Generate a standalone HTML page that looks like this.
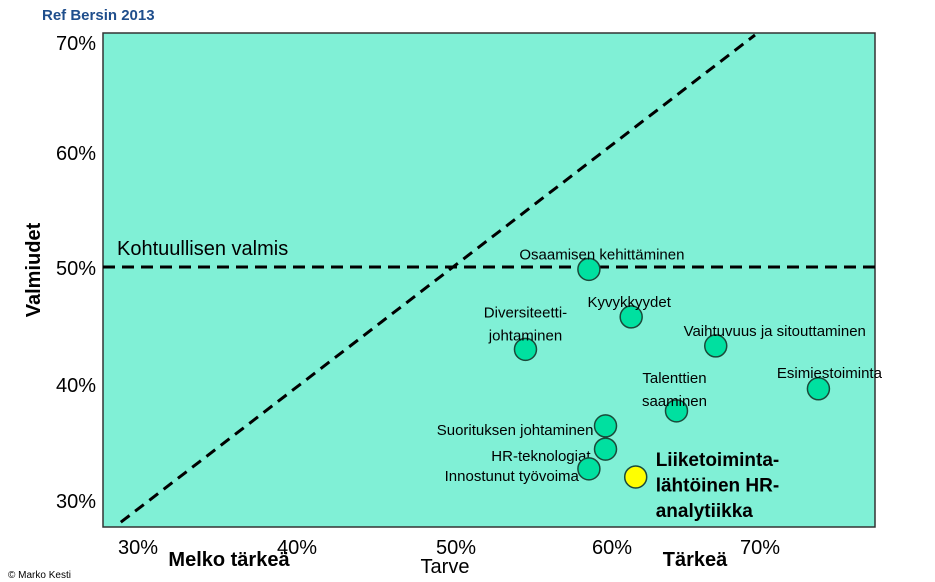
<!DOCTYPE html>
<html><head><meta charset="utf-8"><style>
body{margin:0;background:#fff;width:935px;height:582px;overflow:hidden;font-family:"Liberation Sans","DejaVu Sans",sans-serif}
svg{display:block}
</style></head><body>
<svg width="935" height="582" xmlns="http://www.w3.org/2000/svg">
<text x="42" y="20" font-size="15" font-weight="bold" fill="#1f4e8c">Ref Bersin 2013</text>
<rect x="103" y="33" width="772" height="494" fill="#80f0d6" stroke="#333" stroke-width="1.5"/>
<g id="labels" font-size="20" fill="#000">
<text x="96" y="50" text-anchor="end">70%</text>
<text x="96" y="160" text-anchor="end">60%</text>
<text x="96" y="275" text-anchor="end">50%</text>
<text x="96" y="392" text-anchor="end">40%</text>
<text x="96" y="508" text-anchor="end">30%</text>
<text x="138" y="554" text-anchor="middle">30%</text>
<text x="297" y="554" text-anchor="middle">40%</text>
<text x="456" y="554" text-anchor="middle">50%</text>
<text x="612" y="554" text-anchor="middle">60%</text>
<text x="760" y="554" text-anchor="middle">70%</text>
<text x="229" y="566" text-anchor="middle" font-weight="bold">Melko tärkeä</text>
<text x="445" y="573" text-anchor="middle">Tarve</text>
<text x="695" y="566" text-anchor="middle" font-weight="bold">Tärkeä</text>
<text transform="translate(40,270) rotate(-90)" text-anchor="middle" font-weight="bold">Valmiudet</text>
<text x="117" y="255">Kohtuullisen valmis</text>
</g>
<text x="8" y="578" font-size="10" fill="#000">© Marko Kesti</text>
<g id="marks"></g>
</svg>
<script>
const names=["Osaamisen kehittäminen","Kyvykkyydet","Diversiteetti-|johtaminen","Vaihtuvuus ja sitouttaminen","Esimiestoiminta","Talenttien|saaminen","Suorituksen johtaminen","HR-teknologiat","Innostunut työvoima","Liiketoiminta-|lähtöinen HR-|analytiikka"];
const need=[59.0,61.8,54.8,67.4,74.2,64.8,60.1,60.1,59.0,62.1];
const readiness=[49.8,45.7,42.9,43.2,39.5,37.6,36.3,34.3,32.6,31.9];
const highlight=[false,false,false,false,false,false,false,false,false,true];
const refLevel=50;
const diagRange=[28,70];
const xS=v=>453+(v-50)*15.1;
const yS=v=>267-(v-50)*11.6;
const NS="http://www.w3.org/2000/svg";
const g=document.getElementById('marks');
function mk(t,a){const e=document.createElementNS(NS,t);for(const k in a)e.setAttribute(k,a[k]);g.appendChild(e);return e;}
const d=mk('line',{x1:xS(diagRange[0]),y1:yS(diagRange[0]),x2:xS(diagRange[1]),y2:yS(diagRange[1]),stroke:'#000','stroke-width':3,'stroke-dasharray':'11 7'});


const h=mk('line',{x1:103,y1:yS(refLevel),x2:875,y2:yS(refLevel),stroke:'#000','stroke-width':3,'stroke-dasharray':'12 7'});


// label placement: [dx, dy, anchor] relative to point
const lp=[[13,-15,'middle'],[-2,-15,'middle'],[0,-37,'middle'],[59,-15,'middle'],[11,-16,'middle'],[-2,-33,'middle'],[-12,4,'end'],[-15,7,'end'],[-10,7,'end'],[20,-16,'start']];
names.forEach((n,i)=>{
 const cx=xS(need[i]),cy=yS(readiness[i]);
 const c=mk('circle',{cx:cx,cy:cy,r:11,fill:highlight[i]?'#ffff00':'#00e0a0',stroke:'#1a4a3a','stroke-width':1.5});
 
 
 const lines=n.split('|');
 const big=highlight[i];
 const lh=big?25.5:23;
 lines.forEach((s,j)=>{
  const t=mk('text',{x:cx+lp[i][0],y:cy+lp[i][1]+j*lh+5,'text-anchor':lp[i][2],'font-size':big?19:15,'font-weight':big?'bold':'normal',fill:'#000'});
  t.textContent=s;
  
  
 });
});
</script>
</body></html>
